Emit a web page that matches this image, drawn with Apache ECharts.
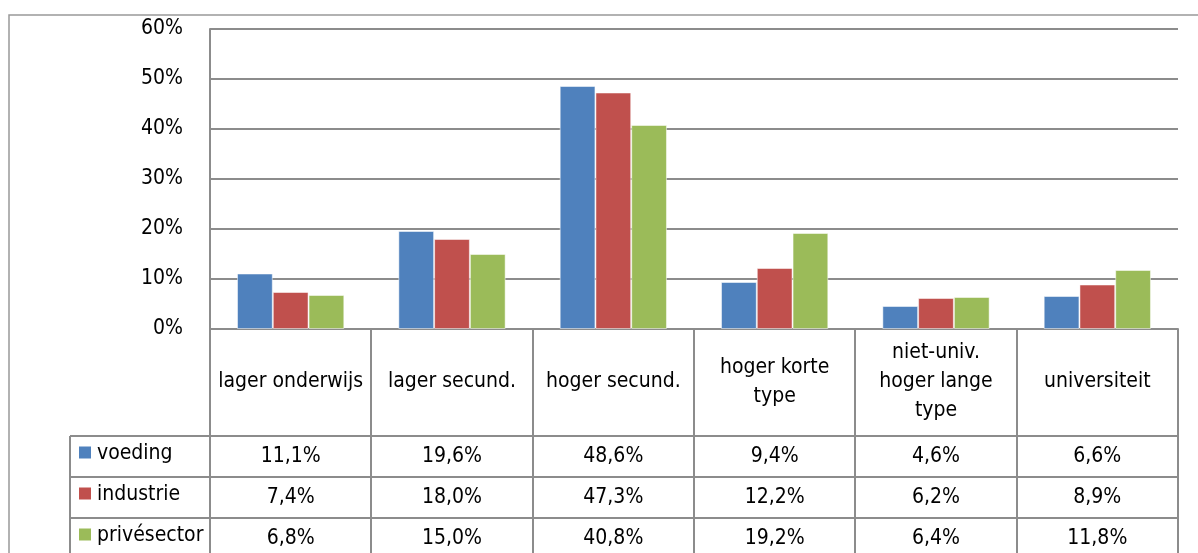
<!DOCTYPE html>
<html>
<head>
<meta charset="utf-8">
<script src="https://cdn.jsdelivr.net/npm/echarts@6/dist/echarts.min.js"></script>
<style>
  html, body { margin: 0; padding: 0; background: #fff; }
  #chart { width: 1198px; height: 553px; }
</style>
</head>
<body>
<div id="chart"></div>
<script>
  // categorieën (opleidingsniveau)
  var categories = ['lager onderwijs', 'lager secund.', 'hoger secund.', 'hoger korte\ntype', 'niet-univ.\nhoger lange\ntype', 'universiteit']
  var seriesNames = ['voeding', 'industrie', 'privésector']
  var voeding = [11.1, 19.6, 48.6, 9.4, 4.6, 6.6]
  var industrie = [7.4, 18.0, 47.3, 12.2, 6.2, 8.9]
  var privesector = [6.8, 15.0, 40.8, 19.2, 6.4, 11.8]
  var yTicks = [0, 10, 20, 30, 40, 50, 60]

  var colors = ['#4F81BD', '#C0504D', '#9BBB59']
  var seriesData = [voeding, industrie, privesector]

  var FONT = '"Liberation Sans Narrow", "Arial Narrow", "DejaVu Sans Condensed", sans-serif'
  var FS = 21
  var lineCol = '#8c8c8c'

  // plot area / tabel geometrie
  var plotL = 210, plotR = 1178, plotT = 29, plotB = 329
  var headB = 436, rowH = 41, legL = 70
  var colW = (plotR - plotL) / categories.length

  var myChart = echarts.init(document.getElementById('chart'))

  function fmt(v) {
    return v.toFixed(1).replace('.', ',') + '%'
  }

  var graphics = []
  // buitenrand
  graphics.push({
    type: 'rect', z: 0,
    shape: { x: 9, y: 15, width: 1220, height: 600 },
    style: { fill: null, stroke: '#999', lineWidth: 1.5 }
  })
  // verticale lijnen van de tabel
  for (var i = 0; i <= categories.length; i++) {
    var x = Math.round(plotL + i * colW)
    graphics.push({
      type: 'line', z: 10,
      shape: { x1: x, y1: plotB, x2: x, y2: 600 },
      style: { stroke: lineCol, lineWidth: 2 }
    })
  }
  graphics.push({
    type: 'line', z: 10,
    shape: { x1: legL, y1: headB, x2: legL, y2: 600 },
    style: { stroke: lineCol, lineWidth: 2 }
  })
  // horizontale lijnen
  for (var r = 0; r < 3; r++) {
    var y = headB + r * rowH
    graphics.push({
      type: 'line', z: 10,
      shape: { x1: legL, y1: y, x2: plotR, y2: y },
      style: { stroke: lineCol, lineWidth: 2 }
    })
  }
  // legende + waarden
  for (var s = 0; s < seriesNames.length; s++) {
    var cy = headB + s * rowH + rowH / 2
    graphics.push({
      type: 'rect', z: 10,
      shape: { x: 79, y: cy - 10, width: 12, height: 12 },
      style: { fill: colors[s] }
    })
    graphics.push({
      type: 'text', z: 10,
      style: {
        x: 97, y: cy - 3, text: seriesNames[s], fill: '#000',
        font: FS + 'px ' + FONT, align: 'left', verticalAlign: 'middle'
      }
    })
    for (var c = 0; c < categories.length; c++) {
      graphics.push({
        type: 'text', z: 10,
        style: {
          x: plotL + (c + 0.5) * colW, y: cy, text: fmt(seriesData[s][c]), fill: '#000',
          font: FS + 'px ' + FONT, align: 'center', verticalAlign: 'middle'
        }
      })
    }
  }

  var series = seriesNames.map(function (name, idx) {
    return {
      name: name,
      type: 'bar',
      data: seriesData[idx],
      barGap: '0%',
      barCategoryGap: '33.5%',
      itemStyle: {
        color: colors[idx],
        borderColor: 'rgba(255,255,255,0.5)',
        borderWidth: 1
      }
    }
  })

  var option = {
    animation: false,
    backgroundColor: '#fff',
    textStyle: { fontFamily: FONT },
    grid: {
      left: plotL,
      top: plotT,
      width: plotR - plotL,
      height: plotB - plotT,
      containLabel: false
    },
    xAxis: {
      type: 'category',
      data: categories,
      axisLine: { show: true, lineStyle: { color: lineCol, width: 2 } },
      axisTick: { show: false },
      axisLabel: {
        interval: 0,
        margin: 53,
        verticalAlign: 'middle',
        align: 'center',
        color: '#000',
        fontSize: FS,
        fontFamily: FONT,
        lineHeight: 29
      }
    },
    yAxis: {
      type: 'value',
      min: yTicks[0],
      max: yTicks[yTicks.length - 1],
      interval: 10,
      axisLine: { show: true, lineStyle: { color: lineCol, width: 2 } },
      axisTick: { show: false },
      axisLabel: {
        formatter: '{value}%',
        margin: 27,
        color: '#000',
        fontSize: FS,
        fontFamily: FONT
      },
      splitLine: { show: true, lineStyle: { color: lineCol, width: 2 } }
    },
    series: series,
    graphic: graphics
  }

  myChart.setOption(option)
</script>
</body>
</html>
